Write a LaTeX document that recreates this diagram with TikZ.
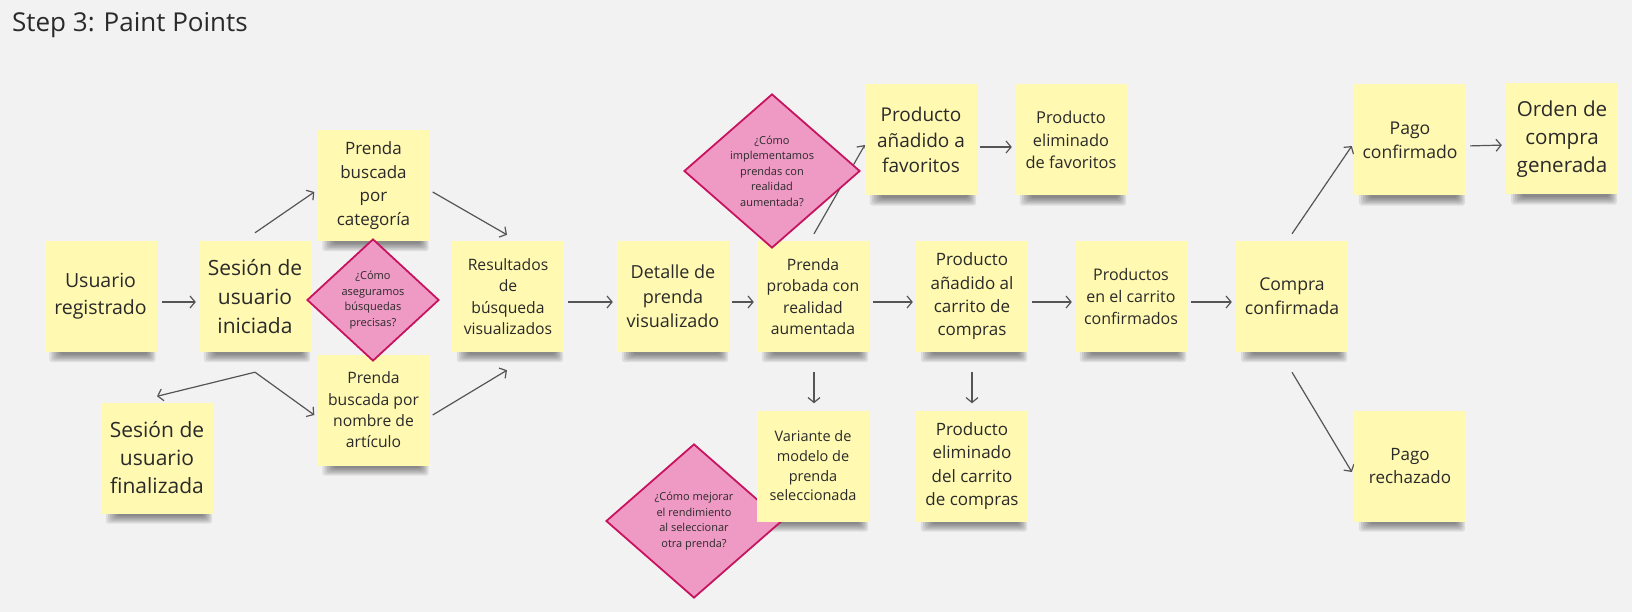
\documentclass[tikz,border=0pt]{standalone}
\usepackage{fontspec}
\setmainfont{Open Sans}
\usetikzlibrary{shapes.geometric,arrows.meta,calc}
\definecolor{bgc}{HTML}{F2F2F2}
\definecolor{stickyY}{HTML}{FFF9B1}
\definecolor{txt}{HTML}{2A2A2A}
\definecolor{dfill}{HTML}{EE9AC4}
\definecolor{dline}{HTML}{C8135F}
\definecolor{arrc}{HTML}{555555}
\pgfdeclarelayer{bg}
\pgfdeclarelayer{shadowlayer}
\pgfdeclarelayer{arrowlayer}
\pgfsetlayers{bg,shadowlayer,arrowlayer,main}
\tikzset{
  fs/.style 2 args={font=\fontsize{#1}{#2}\selectfont},
  sticky/.style={rectangle, fill=stickyY, minimum width=112pt, minimum height=111pt, inner sep=0pt, align=center, text=txt},
  qdiam/.style={diamond, fill=dfill, draw=dline, line width=1.8pt, inner sep=0pt},
  dtext/.style={align=center, text=txt, inner sep=0pt, font=\fontsize{11}{15.5}\selectfont},
  arr/.style={draw=arrc, line width=1.2pt, -{Straight Barb[length=5pt,width=12pt]}},
}
\begin{document}
\begin{tikzpicture}[x=1pt,y=-1pt]
\begin{pgfonlayer}{bg}
\fill[bgc] (0,0) rectangle (1632,612);
\end{pgfonlayer}
\useasboundingbox (0,0) rectangle (1632,612);
\node[anchor=base west, inner sep=0pt, text=txt, font=\fontsize{26}{30}\selectfont] (title) at (12,32) {Step 3: Paint Points};

% diamond under a sticky note
\node[qdiam, minimum width=176pt, minimum height=154pt] (d3) at (694,521) {};
\node[dtext] (d3t) at (d3) {¿Cómo mejorar\\el rendimiento\\al seleccionar\\otra prenda?};

% sticky notes
\node[sticky, fs={19.5}{27}] (ur) at (100.5,296.5) {Usuario\\registrado};
\node[sticky, fs={21}{29}] (si) at (255,296.5) {Sesión de\\usuario\\iniciada};
\node[sticky, fs={17}{23.5}] (pc) at (373.5,185.5) {Prenda\\buscada\\por\\categoría};
\node[sticky, fs={15.7}{21.3}] (pn) at (373.5,410) {Prenda\\buscada por\\nombre de\\artículo};
\node[sticky, fs={21}{28}] (sf) at (157,458) {Sesión de\\usuario\\finalizada};
\node[sticky, fs={15.7}{21.3}] (rb) at (508,296.5) {Resultados\\de\\búsqueda\\visualizados};
\node[sticky, fs={18}{24.7}] (dp) at (673,296.5) {Detalle de\\prenda\\visualizado};
\node[sticky, fs={15.7}{21.3}] (pp) at (813,296.5) {Prenda\\probada con\\realidad\\aumentada};
\node[sticky, fs={19}{25.7}] (pf) at (921,140) {Producto\\añadido a\\favoritos};
\node[sticky, fs={16.4}{22.3}] (ef) at (1071,140) {Producto\\eliminado\\de favoritos};
\node[sticky, fs={17}{23.3}] (pa) at (972,296.5) {Producto\\añadido al\\carrito de\\compras};
\node[sticky, fs={14.5}{19.7}] (vm) at (813,466) {Variante de\\modelo de\\prenda\\seleccionada};
\node[sticky, fs={17}{23.3}] (ec) at (972,466) {Producto\\eliminado\\del carrito\\de compras};
\node[sticky, fs={16}{21.7}] (pcc) at (1131,296.5) {Productos\\en el carrito\\confirmados};
\node[sticky, fs={17.6}{24}] (cc) at (1292,296.5) {Compra\\confirmada};
\node[sticky, fs={17.6}{24}] (pgc) at (1410,140) {Pago\\confirmado};
\node[sticky, fs={20.6}{28}] (oc) at (1562,139) {Orden de\\compra\\generada};
\node[sticky, fs={17}{23.5}] (pr) at (1410,466) {Pago\\rechazado};

% diamonds over sticky notes
\node[qdiam, minimum width=132pt, minimum height=122pt] (d1) at (373,300) {};
\node[dtext] (d1t) at (d1) {¿Cómo\\aseguramos\\búsquedas\\precisas?};
\node[qdiam, minimum width=176pt, minimum height=154pt] (d2) at (772,171) {};
\node[dtext] (d2t) at (d2) {¿Cómo\\implementamos\\prendas con\\realidad\\aumentada?};

% shadows
\begin{pgfonlayer}{shadowlayer}
\foreach \n in {ur,si,pc,pn,sf,rb,dp,pp,pf,ef,pa,vm,ec,pcc,cc,pgc,oc,pr}{
  \foreach \k in {0,...,5}{
    \fill[black, opacity=0.085, rounded corners=3pt]
      ($(\n.south west)+(5+2.2*\k,-10)$) rectangle ($(\n.south east)+(-1-1.6*\k,10-1.5*\k)$);
  }
}
\end{pgfonlayer}

% connectors
\begin{pgfonlayer}{arrowlayer}
\coordinate (sibr) at ($(si.south)+(0,20)$);
\draw[arr, shorten <=5pt, shorten >=3pt] ($(ur.east)+(0,5.5)$) -- ($(si.west)+(0,5.5)$);
\draw[arr] ($(si.north)+(0,-8)$) -- ($(pc.west)+(-3,6.5)$);
\draw[arr] ($(pc.east)+(3,6.5)$) -- ($(rb.north)+(-1,-6)$);
\draw[arr] (sibr) -- ($(sf.north)+(0,-6)$);
\draw[arr] (sibr) -- ($(pn.west)+(-3,5)$);
\draw[arr] ($(pn.east)+(3,5)$) -- ($(rb.south)+(-1,18)$);
\draw[arr, shorten <=4pt, shorten >=4pt] ($(rb.east)+(0,5.5)$) -- ($(dp.west)+(0,5.5)$);
\draw[arr, shorten <=3pt, shorten >=3pt] ($(dp.east)+(0,5.5)$) -- ($(pp.west)+(0,5.5)$);
\draw[arr, shorten <=4pt, shorten >=3pt] ($(pp.east)+(0,5.5)$) -- ($(pa.west)+(0,5.5)$);
\draw[arr, shorten <=4pt, shorten >=3pt] ($(pa.east)+(0,5.5)$) -- ($(pcc.west)+(0,5.5)$);
\draw[arr, shorten <=4pt, shorten >=4pt] ($(pcc.east)+(0,5.5)$) -- ($(cc.west)+(0,5.5)$);
\draw[arr] ($(pp.north)+(1,-7)$) -- ($(pf.west)+(0,5)$);
\draw[arr, shorten <=3pt, shorten >=3pt] ($(pf.east)+(0,7)$) -- ($(ef.west)+(0,7)$);
\draw[arr, shorten <=20pt, shorten >=7pt] ($(pp.south)+(1,0)$) -- ($(vm.north)+(1,0)$);
\draw[arr, shorten <=20pt, shorten >=7pt] (pa.south) -- (ec.north);
\draw[arr] ($(cc.north)+(0,-7)$) -- ($(pgc.west)+(-2,6)$);
\draw[arr] ($(cc.south)+(0,20)$) -- ($(pr.west)+(-2,6)$);
\draw[arr, shorten <=4pt, shorten >=4pt] ($(pgc.east)+(0,6)$) -- ($(oc.west)+(0,6)$);
\end{pgfonlayer}
\end{tikzpicture}
\end{document}
